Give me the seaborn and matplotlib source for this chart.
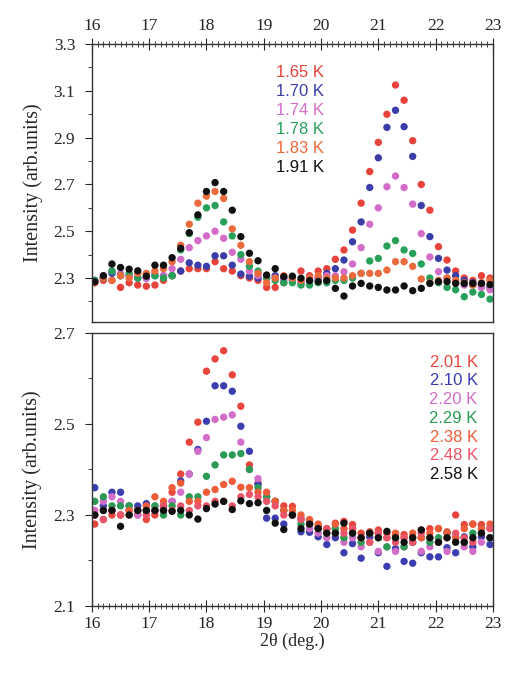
import numpy as np
import pandas as pd
import matplotlib
matplotlib.use("Agg")
import matplotlib.pyplot as plt
from matplotlib.ticker import MultipleLocator
import seaborn as sns

# --- data ---
two_theta = [16.05, 16.20, 16.35, 16.50, 16.65, 16.80, 16.95, 17.10, 17.25, 17.40,
             17.55, 17.70, 17.85, 18.00, 18.15, 18.30, 18.45, 18.60, 18.75, 18.90,
             19.05, 19.20, 19.35, 19.50, 19.65, 19.80, 19.95, 20.10, 20.25, 20.40,
             20.55, 20.70, 20.85, 21.00, 21.15, 21.30, 21.45, 21.60, 21.75, 21.90,
             22.05, 22.20, 22.35, 22.50, 22.65, 22.80, 22.95]

# upper panel (low temperatures)
top_labels = ["1.65 K", "1.70 K", "1.74 K", "1.78 K", "1.83 K", "1.91 K"]
top_165 = [2.28, 2.29, 2.29, 2.26, 2.28, 2.27, 2.265, 2.27, 2.29, 2.31,
           2.33, 2.34, 2.34, 2.34, 2.37, 2.34, 2.33, 2.31, 2.30, 2.29,
           2.26, 2.26, 2.28, 2.30, 2.33, 2.31, 2.33, 2.34, 2.38, 2.42,
           2.505, 2.62, 2.755, 2.88, 3.00, 3.125, 3.06, 2.887, 2.70, 2.59,
           2.434, 2.377, 2.33, 2.30, 2.29, 2.31, 2.30]
top_170 = [2.29, 2.30, 2.32, 2.31, 2.31, 2.30, 2.30, 2.31, 2.31, 2.31,
           2.33, 2.365, 2.355, 2.35, 2.395, 2.395, 2.355, 2.317, 2.308, 2.30,
           2.30, 2.31, 2.30, 2.29, 2.28, 2.29, 2.30, 2.32, 2.34, 2.377,
           2.455, 2.54, 2.687, 2.814, 2.944, 3.017, 2.947, 2.82, 2.61, 2.477,
           2.384, 2.334, 2.31, 2.29, 2.28, 2.27, 2.26]
top_174 = [2.29, 2.31, 2.33, 2.32, 2.31, 2.32, 2.30, 2.32, 2.31, 2.34,
           2.38, 2.43, 2.46, 2.48, 2.50, 2.47, 2.41, 2.38, 2.33, 2.31,
           2.30, 2.30, 2.29, 2.29, 2.28, 2.30, 2.30, 2.31, 2.31, 2.327,
           2.36, 2.43, 2.53, 2.60, 2.69, 2.736, 2.687, 2.616, 2.49, 2.39,
           2.327, 2.30, 2.28, 2.27, 2.27, 2.26, 2.25]
top_178 = [2.29, 2.30, 2.33, 2.31, 2.32, 2.30, 2.31, 2.31, 2.30, 2.31,
           2.42, 2.49, 2.56, 2.60, 2.61, 2.54, 2.48, 2.40, 2.35, 2.33,
           2.30, 2.29, 2.28, 2.28, 2.27, 2.27, 2.28, 2.28, 2.29, 2.29,
           2.30, 2.32, 2.373, 2.384, 2.437, 2.46, 2.42, 2.405, 2.36, 2.30,
           2.28, 2.26, 2.25, 2.22, 2.24, 2.23, 2.21]
top_183 = [2.28, 2.30, 2.29, 2.31, 2.30, 2.32, 2.32, 2.33, 2.34, 2.37,
           2.44, 2.53, 2.62, 2.65, 2.67, 2.64, 2.51, 2.44, 2.37, 2.32,
           2.28, 2.30, 2.31, 2.30, 2.29, 2.30, 2.31, 2.30, 2.30, 2.30,
           2.31, 2.32, 2.32, 2.32, 2.334, 2.37, 2.37, 2.35, 2.296, 2.28,
           2.29, 2.30, 2.29, 2.28, 2.27, 2.28, 2.29]
top_191 = [2.284, 2.31, 2.36, 2.345, 2.338, 2.331, 2.308, 2.355, 2.355, 2.387,
           2.427, 2.494, 2.57, 2.67, 2.708, 2.67, 2.59, 2.477, 2.406, 2.374,
           2.313, 2.34, 2.306, 2.308, 2.299, 2.289, 2.285, 2.289, 2.256, 2.223,
           2.266, 2.277, 2.266, 2.26, 2.249, 2.249, 2.266, 2.246, 2.256, 2.277,
           2.285, 2.285, 2.277, 2.277, 2.277, 2.277, 2.272]

# lower panel (higher temperatures)
bot_labels = ["2.01 K", "2.10 K", "2.20 K", "2.29 K", "2.38 K", "2.48 K", "2.58 K"]
bot_201 = [2.28, 2.29, 2.30, 2.30, 2.31, 2.30, 2.29, 2.30, 2.31, 2.35,
           2.39, 2.46, 2.504, 2.616, 2.643, 2.661, 2.608, 2.539, 2.41, 2.37,
           2.34, 2.33, 2.32, 2.319, 2.293, 2.286, 2.275, 2.268, 2.282, 2.286,
           2.279, 2.26, 2.263, 2.267, 2.26, 2.256, 2.257, 2.252, 2.267, 2.27,
           2.27, 2.263, 2.30, 2.279, 2.28, 2.279, 2.271]
bot_210 = [2.36, 2.32, 2.35, 2.35, 2.32, 2.32, 2.325, 2.31, 2.32, 2.33,
           2.375, 2.39, 2.444, 2.506, 2.584, 2.584, 2.572, 2.495, 2.44, 2.367,
           2.293, 2.293, 2.28, 2.30, 2.263, 2.262, 2.252, 2.235, 2.25, 2.217,
           2.237, 2.205, 2.252, 2.217, 2.187, 2.226, 2.198, 2.194, 2.217, 2.208,
           2.208, 2.228, 2.217, 2.252, 2.23, 2.252, 2.235]
bot_220 = [2.31, 2.33, 2.34, 2.33, 2.31, 2.30, 2.31, 2.32, 2.31, 2.33,
           2.35, 2.39, 2.44, 2.47, 2.51, 2.515, 2.52, 2.46, 2.40, 2.38,
           2.34, 2.33, 2.31, 2.30, 2.29, 2.27, 2.26, 2.25, 2.27, 2.24,
           2.25, 2.23, 2.24, 2.22, 2.23, 2.22, 2.23, 2.24, 2.22, 2.23,
           2.24, 2.22, 2.25, 2.23, 2.22, 2.24, 2.25]
bot_229 = [2.33, 2.34, 2.32, 2.32, 2.32, 2.31, 2.31, 2.32, 2.30, 2.32,
           2.30, 2.34, 2.34, 2.385, 2.41, 2.432, 2.432, 2.435, 2.40, 2.36,
           2.34, 2.33, 2.31, 2.30, 2.28, 2.28, 2.27, 2.26, 2.27, 2.25,
           2.26, 2.24, 2.26, 2.25, 2.23, 2.25, 2.23, 2.24, 2.25, 2.24,
           2.25, 2.26, 2.25, 2.24, 2.26, 2.27, 2.25]
bot_238 = [2.30, 2.31, 2.31, 2.30, 2.31, 2.31, 2.32, 2.34, 2.33, 2.36,
           2.37, 2.33, 2.33, 2.35, 2.356, 2.367, 2.374, 2.361, 2.36, 2.35,
           2.35, 2.33, 2.31, 2.31, 2.30, 2.29, 2.28, 2.27, 2.28, 2.27,
           2.27, 2.25, 2.26, 2.26, 2.25, 2.26, 2.25, 2.26, 2.25, 2.26,
           2.27, 2.26, 2.25, 2.27, 2.28, 2.27, 2.28]
bot_248 = [2.30, 2.29, 2.31, 2.30, 2.30, 2.31, 2.30, 2.31, 2.32, 2.31,
           2.32, 2.31, 2.32, 2.32, 2.33, 2.33, 2.32, 2.34, 2.345, 2.34,
           2.33, 2.32, 2.30, 2.30, 2.29, 2.28, 2.27, 2.27, 2.26, 2.26,
           2.27, 2.25, 2.24, 2.26, 2.25, 2.24, 2.25, 2.24, 2.26, 2.25,
           2.24, 2.25, 2.26, 2.25, 2.24, 2.26, 2.27]
bot_258 = [2.30, 2.31, 2.31, 2.275, 2.30, 2.31, 2.31, 2.31, 2.31, 2.308,
           2.31, 2.30, 2.291, 2.314, 2.324, 2.33, 2.312, 2.331, 2.325, 2.327,
           2.31, 2.282, 2.268, 2.30, 2.27, 2.28, 2.27, 2.26, 2.26, 2.282,
           2.26, 2.25, 2.26, 2.25, 2.264, 2.25, 2.24, 2.25, 2.267, 2.25,
           2.24, 2.25, 2.24, 2.24, 2.25, 2.26, 2.25]

top_series = [top_165, top_170, top_174, top_178, top_183, top_191]
bot_series = [bot_201, bot_210, bot_220, bot_229, bot_238, bot_248, bot_258]

top_colors = ["#e8433b", "#3b3ea8", "#d46cc9", "#27a05a", "#ec6b3c", "#111111"]
bot_colors = ["#e8463c", "#3c3eb0", "#d26ec8", "#2a9a55", "#ee5c38", "#ea5468", "#111111"]


def long_table(labels, series):
    frames = []
    for lab, vals in zip(labels, series):
        frames.append(pd.DataFrame({"two_theta": two_theta, "intensity": vals, "temp": lab}))
    return pd.concat(frames, ignore_index=True)


sns.set_style("ticks")
plt.rcParams["font.family"] = ["Liberation Serif", "DejaVu Serif"]

fig = plt.figure(figsize=(5.05, 6.73), dpi=100)
ax_top = fig.add_axes([0.182, 0.5215, 0.794, 0.413])
ax_bot = fig.add_axes([0.182, 0.0996, 0.794, 0.4056])

panels = [
    (ax_top, top_labels, top_series, top_colors, (2.112, 3.3), [2.3, 2.5, 2.7, 2.9, 3.1, 3.3]),
    (ax_bot, bot_labels, bot_series, bot_colors, (2.1, 2.7), [2.1, 2.3, 2.5, 2.7]),
]

for ax, labels, series, colors, ylim, yticks in panels:
    df = long_table(labels, series)
    sns.scatterplot(data=df, x="two_theta", y="intensity", hue="temp",
                    hue_order=labels, palette=colors, s=28, linewidth=0,
                    legend=False, ax=ax)
    ax.set_xlim(16, 23)
    ax.set_ylim(*ylim)
    ax.set_yticks(yticks)
    ax.set_yticklabels([f"{v:.1f}" for v in yticks])
    ax.xaxis.set_major_locator(MultipleLocator(1))
    ax.xaxis.set_minor_locator(MultipleLocator(0.1))
    ax.yaxis.set_minor_locator(MultipleLocator(0.1))
    for sp in ax.spines.values():
        sp.set_visible(True)
        sp.set_linewidth(1.0)
        sp.set_color("#333333")
    ax.tick_params(axis="y", which="major", direction="out", length=5, width=0.8,
                   pad=7, labelsize=12.5, right=False)
    ax.tick_params(axis="y", which="minor", direction="out", length=3, width=0.6, right=False)
    ax.set_ylabel("Intensity (arb.units)", fontsize=14.5, labelpad=8)
    ax.set_xlabel("")

    # colored temperature labels
    if ax is ax_top:
        x0, y0, dy, ha = 0.459, 0.897, 0.0685, "left"
    else:
        x0, y0, dy, ha = 0.962, 0.893, 0.0685, "right"
    for k, (lab, col) in enumerate(zip(labels, colors)):
        ax.text(x0, y0 - k * dy, lab, transform=ax.transAxes, color=col,
                fontsize=12, family=["Liberation Sans", "DejaVu Sans"],
                ha=ha, va="center")

# upper panel: degree labels on top
ax_top.tick_params(axis="x", which="major", direction="inout", length=8, width=0.8,
                   top=True, bottom=False, labeltop=True, labelbottom=False,
                   labelsize=12.5, pad=3)
ax_top.tick_params(axis="x", which="minor", direction="inout", length=4, width=0.6,
                   top=True, bottom=False)

# lower panel: degree labels at the bottom
ax_bot.tick_params(axis="x", which="major", direction="inout", length=8, width=0.8,
                   top=False, bottom=True, labelsize=12.5, pad=3)
ax_bot.tick_params(axis="x", which="minor", direction="inout", length=4, width=0.6,
                   top=False, bottom=True)
ax_bot.set_xlabel("2θ (deg.)", fontsize=13, labelpad=1)

fig.savefig("out.png", dpi=100)
